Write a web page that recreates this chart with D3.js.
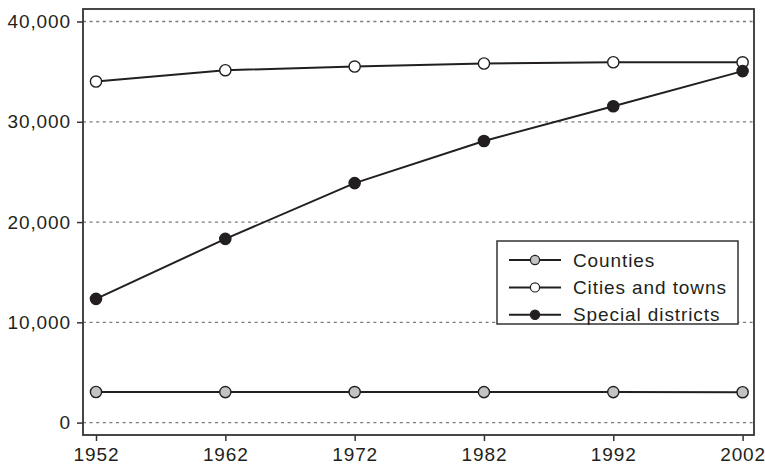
<!DOCTYPE html>
<html><head><meta charset="utf-8">
<script src="https://cdn.jsdelivr.net/npm/d3@7"></script>
<style>
body{margin:0;background:#fff;}
text{font-family:"Liberation Sans",Arial,Helvetica,sans-serif;fill:#231f20;letter-spacing:0.9px;}
</style></head>
<body><svg id="c" width="765" height="467"></svg>
<script>
const years = [1952, 1962, 1972, 1982, 1992, 2002];
const counties = [3052, 3043, 3044, 3041, 3043, 3034];
const citiesTowns = [34009, 35142, 35508, 35810, 35935, 35933];
const specialDistricts = [12340, 18323, 23885, 28078, 31555, 35052];
const yTicks = [0, 10000, 20000, 30000, 40000];
const seriesNames = ["Counties", "Cities and towns", "Special districts"];
const seriesFills = ["#c3c3c3", "#ffffff", "#231f20"];

const svg = d3.select("#c");
const frame = {l:83, t:9, r:754, b:435};
const x = d3.scaleLinear().domain([1952, 2002]).range([96, 742.6]);
const y = d3.scaleLinear().domain([0, 40000]).range([422.6, 21.5]);
const ink = "#231f20";

// gridlines
svg.append("g").selectAll("line").data(yTicks).join("line")
  .attr("x1", frame.l).attr("x2", frame.r)
  .attr("y1", d=>y(d)).attr("y2", d=>y(d))
  .attr("stroke", "#7a7a7a").attr("stroke-width", 1.3)
  .attr("stroke-dasharray", "3,3.6");

// frame
svg.append("rect").attr("x", frame.l).attr("y", frame.t)
  .attr("width", frame.r-frame.l).attr("height", frame.b-frame.t)
  .attr("fill","none").attr("stroke", "#333").attr("stroke-width", 1.8);

// y axis
const yAxis = d3.axisLeft(y).tickValues(yTicks).tickSize(6).tickPadding(6)
  .tickFormat(d3.format(","));
const gy = svg.append("g").attr("transform", `translate(${frame.l},0)`).call(yAxis);
gy.select(".domain").remove();
gy.selectAll(".tick line").attr("stroke", "#333").attr("stroke-width", 1.5);
gy.selectAll(".tick text").attr("font-size", 19).attr("fill", ink).style("font-family",null);

// x axis
const xAxis = d3.axisBottom(x).tickValues(years).tickSize(6).tickPadding(7)
  .tickFormat(d3.format("d"));
const gx = svg.append("g").attr("transform", `translate(0,${frame.b})`).call(xAxis);
gx.select(".domain").remove();
gx.selectAll(".tick line").attr("stroke", "#333").attr("stroke-width", 1.5);
gx.selectAll(".tick text").attr("font-size", 19).attr("fill", ink).style("font-family",null);
svg.selectAll(".tick text").attr("font-family", null);

const series = [counties, citiesTowns, specialDistricts];
const line = d3.line().x((d,i)=>x(years[i])).y(d=>y(d));
series.forEach((s, k) => {
  svg.append("path").attr("d", line(s)).attr("fill","none")
    .attr("stroke", ink).attr("stroke-width", 2);
});
series.forEach((s, k) => {
  svg.append("g").selectAll("circle").data(s).join("circle")
    .attr("cx", (d,i)=>x(years[i])).attr("cy", d=>y(d)).attr("r", 5.6)
    .attr("fill", seriesFills[k]).attr("stroke", ink).attr("stroke-width", 1.4);
});

// legend
const lg = svg.append("g");
lg.append("rect").attr("x", 497).attr("y", 241).attr("width", 241).attr("height", 83)
  .attr("fill", "#fff").attr("stroke", "#333").attr("stroke-width", 1.5);
seriesNames.forEach((n, k) => {
  const yy = 260 + k*27.4;
  lg.append("line").attr("x1", 509).attr("x2", 561).attr("y1", yy).attr("y2", yy)
    .attr("stroke", ink).attr("stroke-width", 2);
  lg.append("circle").attr("cx", 535).attr("cy", yy).attr("r", 4.6)
    .attr("fill", seriesFills[k]).attr("stroke", ink).attr("stroke-width", 1.2);
  lg.append("text").attr("x", 573).attr("y", yy).attr("dy", "0.35em")
    .attr("font-size", 19).text(n);
});
</script></body></html>
